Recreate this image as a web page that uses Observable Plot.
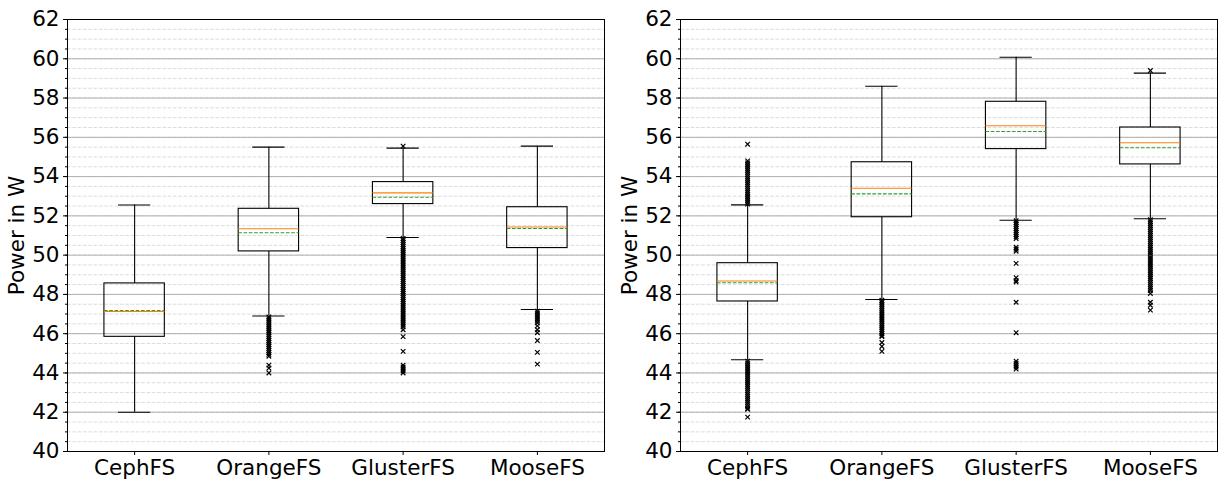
<!DOCTYPE html>
<html>
<head>
<meta charset="utf-8">
<script src="https://cdn.jsdelivr.net/npm/d3@7"></script>
<script src="https://cdn.jsdelivr.net/npm/@observablehq/plot@0.6"></script>
<style>
  html, body { margin: 0; padding: 0; background: white; }
  #wrap { display: flex; width: 1225px; height: 485px; }
  svg { display: block; }
</style>
</head>
<body>
<div id="wrap"></div>
<script>
const categories = ["CephFS", "OrangeFS", "GlusterFS", "MooseFS"];
const yMajorTicks = [40, 42, 44, 46, 48, 50, 52, 54, 56, 58, 60, 62];
const yMinorTicks = [40, 40.5, 41, 41.5, 42, 42.5, 43, 43.5, 44, 44.5, 45, 45.5, 46, 46.5, 47, 47.5, 48, 48.5, 49, 49.5, 50, 50.5, 51, 51.5, 52, 52.5, 53, 53.5, 54, 54.5, 55, 55.5, 56, 56.5, 57, 57.5, 58, 58.5, 59, 59.5, 60, 60.5, 61, 61.5, 62];

// Left panel
const leftWhiskerLow  = [42.0, 46.9, 50.9, 47.23];
const leftQ1          = [45.84, 50.19, 52.6, 50.36];
const leftMedian      = [47.13, 51.34, 53.17, 51.43];
const leftMean        = [47.18, 51.14, 52.95, 51.36];
const leftQ3          = [48.56, 52.36, 53.72, 52.44];
const leftWhiskerHigh = [52.55, 55.5, 55.45, 55.55];
const leftOutCeph = [];
const leftOutOrange = [46.85, 46.75, 46.65, 46.55, 46.45, 46.35, 46.25, 46.15, 46.05, 45.95, 45.85, 45.75, 45.65, 45.55, 45.45, 45.35, 45.25, 45.15, 45.05, 44.95, 44.85, 44.4, 44.25, 44.0];
const leftOutGluster = [55.55, 50.85, 50.75, 50.65, 50.55, 50.45, 50.35, 50.25, 50.15, 50.05, 49.95, 49.85, 49.75, 49.65, 49.55, 49.45, 49.35, 49.25, 49.15, 49.05, 48.95, 48.85, 48.75, 48.65, 48.55, 48.45, 48.35, 48.25, 48.15, 48.05, 47.95, 47.85, 47.75, 47.65, 47.55, 47.45, 47.35, 47.25, 47.15, 47.05, 46.95, 46.85, 46.75, 46.65, 46.55, 46.45, 46.35, 46.2, 45.85, 45.1, 44.4, 44.3, 44.2, 44.1, 44.0];
const leftOutMoose = [47.15, 47.05, 46.95, 46.85, 46.75, 46.65, 46.55, 46.4, 46.2, 46.05, 45.65, 45.05, 44.45];

// Right panel
const rightWhiskerLow  = [44.67, 47.74, 51.78, 51.85];
const rightQ1          = [47.64, 51.93, 55.4, 54.62];
const rightMedian      = [48.68, 53.41, 56.59, 55.72];
const rightMean        = [48.59, 53.12, 56.3, 55.47];
const rightQ3          = [49.59, 54.73, 57.81, 56.5];
const rightWhiskerHigh = [52.56, 58.6, 60.08, 59.27];
const rightOutCeph = [55.65, 54.8, 54.7, 54.6, 54.5, 54.4, 54.3, 54.2, 54.1, 54.0, 53.9, 53.8, 53.7, 53.6, 53.5, 53.4, 53.3, 53.2, 53.1, 53.0, 52.9, 52.8, 52.7, 52.6,
  44.6, 44.5, 44.4, 44.3, 44.2, 44.1, 44.0, 43.9, 43.8, 43.7, 43.6, 43.5, 43.4, 43.3, 43.2, 43.1, 43.0, 42.9, 42.8, 42.7, 42.6, 42.5, 42.4, 42.3, 42.2, 42.15, 41.75];
const rightOutOrange = [47.7, 47.6, 47.5, 47.4, 47.3, 47.2, 47.1, 47.0, 46.9, 46.8, 46.7, 46.6, 46.5, 46.4, 46.3, 46.2, 46.1, 46.0, 45.9, 45.85, 45.55, 45.35, 45.1];
const rightOutGluster = [51.75, 51.65, 51.55, 51.45, 51.35, 51.25, 51.15, 51.05, 50.95, 50.85, 50.4, 50.3, 50.2, 49.58, 48.85, 48.7, 48.63, 47.6, 46.05, 44.6, 44.5, 44.4, 44.3, 44.2];
const rightOutMoose = [59.4, 51.8, 51.7, 51.6, 51.5, 51.4, 51.3, 51.2, 51.1, 51.0, 50.9, 50.8, 50.7, 50.6, 50.5, 50.4, 50.3, 50.2, 50.1, 50.0, 49.9, 49.8, 49.7, 49.6, 49.5, 49.4, 49.3, 49.2, 49.1, 49.0, 48.9, 48.8, 48.7, 48.6, 48.5, 48.4, 48.3, 48.2, 48.05, 47.6, 47.45, 47.2];

const BOX_HALF = 0.225, CAP_HALF = 0.12;

function panel(s, outliers, marginLeft, marginRight, width) {
  const boxes = categories.map((c, i) => ({
    pos: i + 1, lo: s.lo[i], q1: s.q1[i], med: s.med[i], mean: s.mean[i], q3: s.q3[i], hi: s.hi[i]
  }));
  const pts = outliers.flatMap((arr, i) => arr.map(v => ({pos: i + 1, v})));
  return Plot.plot({
    width, height: 485,
    marginTop: 19, marginBottom: 34, marginLeft, marginRight,
    style: {fontFamily: "DejaVu Sans", fontSize: "21.5px", background: "white", color: "black"},
    x: {domain: [0.5, 4.5]},
    y: {domain: [40, 62]},
    marks: [
      Plot.gridY(yMinorTicks, {stroke: "#dcdcdc", strokeOpacity: 1, strokeDasharray: "3.7,1.6"}),
      Plot.gridY(yMajorTicks, {stroke: "#b0b0b0", strokeOpacity: 1, strokeWidth: 1}),
      Plot.axisY(yMinorTicks, {tickSize: 2, tickFormat: () => "", label: null}),
      Plot.axisY(yMajorTicks, {tickSize: 4, tickPadding: 4, fontSize: 21.5, label: "Power in W", labelAnchor: "center", labelArrow: "none", labelOffset: 59}),
      Plot.axisX([1, 2, 3, 4], {tickSize: 4, tickPadding: 4, fontSize: 21.5, tickFormat: d => categories[d - 1], label: null}),
      Plot.ruleX(boxes, {x: "pos", y1: "lo", y2: "q1", stroke: "black", strokeWidth: 1.1}),
      Plot.ruleX(boxes, {x: "pos", y1: "q3", y2: "hi", stroke: "black", strokeWidth: 1.1}),
      Plot.ruleY(boxes, {y: "lo", x1: d => d.pos - CAP_HALF, x2: d => d.pos + CAP_HALF, stroke: "black", strokeWidth: 1.1}),
      Plot.ruleY(boxes, {y: "hi", x1: d => d.pos - CAP_HALF, x2: d => d.pos + CAP_HALF, stroke: "black", strokeWidth: 1.1}),
      Plot.rect(boxes, {x1: d => d.pos - BOX_HALF, x2: d => d.pos + BOX_HALF, y1: "q1", y2: "q3", fill: "none", stroke: "black", strokeWidth: 1.1}),
      Plot.ruleY(boxes, {y: "med", x1: d => d.pos - BOX_HALF, x2: d => d.pos + BOX_HALF, stroke: "#ff7f0e", strokeWidth: 1.1}),
      Plot.ruleY(boxes, {y: "mean", x1: d => d.pos - BOX_HALF, x2: d => d.pos + BOX_HALF, stroke: "#2ca02c", strokeWidth: 1.1, strokeDasharray: "3.7,1.6"}),
      Plot.dot(pts, {x: "pos", y: "v", symbol: "times", r: 2.2, stroke: "black", strokeWidth: 1.2}),
      Plot.frame({stroke: "black", strokeWidth: 1})
    ]
  });
}

const wrap = document.getElementById("wrap");
wrap.appendChild(panel(
  {lo: leftWhiskerLow, q1: leftQ1, med: leftMedian, mean: leftMean, q3: leftQ3, hi: leftWhiskerHigh},
  [leftOutCeph, leftOutOrange, leftOutGluster, leftOutMoose], 67, 8, 612));
wrap.appendChild(panel(
  {lo: rightWhiskerLow, q1: rightQ1, med: rightMedian, mean: rightMean, q3: rightQ3, hi: rightWhiskerHigh},
  [rightOutCeph, rightOutOrange, rightOutGluster, rightOutMoose], 68, 8, 613));
</script>
</body>
</html>
